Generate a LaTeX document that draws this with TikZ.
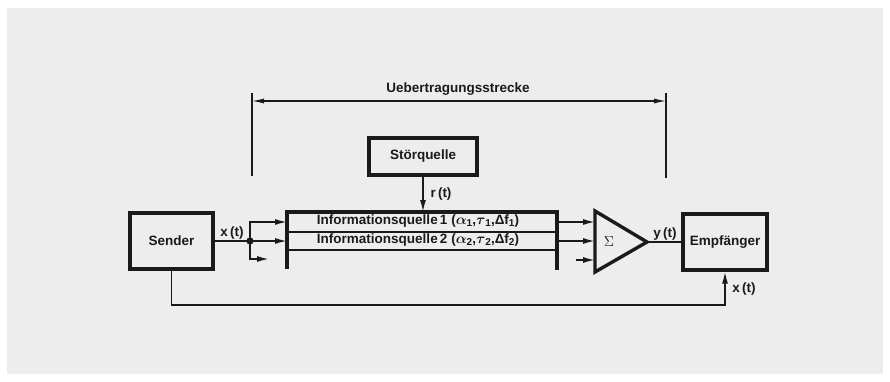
\documentclass[tikz,border=0pt]{standalone}
\usepackage{fontspec}
\setmainfont{Liberation Sans}
\usetikzlibrary{arrows.meta}
\definecolor{bg}{HTML}{EDEDED}
\definecolor{ink}{HTML}{1A1A1A}
\newcommand{\bgr}[1]{{\fontsize{15}{15}\selectfont\boldmath$#1$}}
\newcommand{\sbs}[1]{\raisebox{-2.5pt}{\fontsize{10}{10}\selectfont #1}}
\begin{document}
\begin{tikzpicture}[x=1pt,y=-1pt,
  every node/.style={text=ink},
  blk/.style={draw=ink, line width=3.2pt, inner sep=0pt, font=\fontsize{13.5}{15}\selectfont\bfseries},
  conn/.style={draw=ink, line width=1.6pt},
  thin/.style={draw=ink, line width=1.1pt},
  thick/.style={draw=ink, line width=3.4pt},
  tip/.style={-{Latex[length=12pt,width=6pt]}},
  arr/.style={conn, tip},
  lbl/.style={font=\fontsize{13.5}{15}\selectfont\bfseries, inner sep=0pt},
  ilbl/.style={font=\fontsize{13.5}{15}\selectfont\bfseries, inner sep=0pt},
]
\useasboundingbox (0,0) rectangle (890,381);
\fill[white] (0,0) rectangle (890,381);
\fill[bg] (7,8) rectangle (883,374);

% boxes
\node[blk, minimum width=83pt, minimum height=56pt] (snd) at (171.5,241) {Sender};
\node[blk, minimum width=84pt, minimum height=56pt] (emp) at (725,242) {Empfänger};
\node[blk, minimum width=108pt, minimum height=37pt] (stor) at (423,156.5) {Störquelle};

% channel block
\coordinate (chTL) at (287,212);
\coordinate (chBL) at (287,269);
\coordinate (chTR) at (557,212);
\coordinate (chBR) at (557,270);
\draw[thick] (chBL) -- (chTL) -- (chTR) -- (chBR);
\draw[thin] (287,232) -- (557,232);
\draw[thin] (287,250) -- (557,250);
\node[ilbl] (iq1) at (418,221) {Informationsquelle\,1 (\bgr{\alpha}\sbs{1},\bgr{\tau}\sbs{1},Δf\sbs{1})};
\node[ilbl] (iq2) at (418,240) {Informationsquelle\,2 (\bgr{\alpha}\sbs{2},\bgr{\tau}\sbs{2},Δf\sbs{2})};

% junction and branches
\coordinate (j) at (250,241);
\coordinate (in1) at (287,222);
\coordinate (in2) at (287,241);
\coordinate (b3) at (269,259);
\draw[conn] (snd.east) -- (j);
\fill[ink] (j) circle (3.6pt);
\draw[arr] (j) |- (in1);
\draw[arr] (j) -- (in2);
\draw[arr] (j) |- (b3);
\node[lbl] (xt1) at (232,233) {x\,(t)};

% noise
\coordinate (rin) at (423,212);
\draw[arr] (stor.south) -- (rin);
\node[lbl] (rt) at (441,194) {r\,(t)};

% summer
\coordinate (tA) at (595,211);
\coordinate (tB) at (595,272);
\coordinate (tC) at (647,242);
\draw[thick, line join=miter] (tA) -- (tB) -- (tC) -- cycle;
\node[inner sep=0pt, text=ink, font=\Large] (sig) at (609,242) {$\Sigma$};
\coordinate (o1) at (557,222);
\coordinate (o2) at (557,241);
\coordinate (o3) at (576,260);
\draw[arr] (o1) -- (595,222);
\draw[arr] (o2) -- (595,241);
\draw[arr] (o3) -- (595,260);

% output
\draw[conn] (tC) -- (emp.west);
\node[lbl] (yt) at (665,234) {y\,(t)};

% feedback
\coordinate (fb) at (725,305);
\draw[arr] (snd.south) |- (fb) -- (emp.south);
\node[lbl] (xt2) at (744,289) {x\,(t)};

% dimension line
\coordinate (dL) at (252,101);
\coordinate (dR) at (666,101);
\draw[thin] (252,93) -- (252,176);
\draw[thin] (666,93) -- (666,178);
\draw[thin, {Latex[length=12pt,width=5pt]}-{Latex[length=12pt,width=5pt]}] (dL) -- (dR);
\node[lbl] (ue) at (458,89) {Uebertragungsstrecke};
\end{tikzpicture}
\end{document}
